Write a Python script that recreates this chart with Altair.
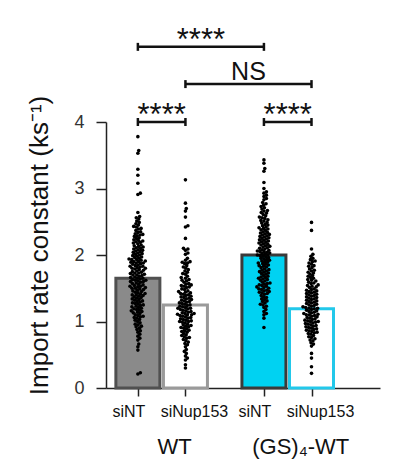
import math
import altair as alt
import pandas as pd

# ---------------- data ----------------
groups = ["WT", "(GS)₄-WT"]
conditions = ["siNT", "siNup153"]
bar_means = [1.65, 1.25, 2.00, 1.19]

wt_sint = [3.78, 3.57, 3.53, 3.29, 3.20, 3.08, 2.93, 2.91, 2.64,
           2.58, 2.56, 2.54, 2.51, 2.49, 2.47, 2.45, 2.43, 2.42, 2.40,
           2.39, 2.37, 2.35, 2.34, 2.32, 2.31, 2.30,
           2.29, 2.28, 2.26, 2.25, 2.23, 2.22, 2.21, 2.20,
           2.19, 2.18, 2.17, 2.15, 2.14, 2.13, 2.12, 2.11, 2.10,
           2.09, 2.08, 2.07, 2.06, 2.05, 2.04, 2.03, 2.02, 2.01, 2.00,
           1.99, 1.98, 1.97, 1.96, 1.95, 1.94, 1.93, 1.93, 1.92, 1.91, 1.90, 1.90,
           1.89, 1.88, 1.88, 1.87, 1.86, 1.85, 1.84, 1.83, 1.83, 1.82, 1.81, 1.80, 1.80,
           1.79, 1.78, 1.77, 1.76, 1.75, 1.74, 1.73, 1.73, 1.72, 1.71, 1.70, 1.70,
           1.69, 1.68, 1.67, 1.66, 1.65, 1.65, 1.64, 1.63, 1.62, 1.62, 1.61, 1.60, 1.60,
           1.59, 1.58, 1.57, 1.56, 1.55, 1.54, 1.53, 1.53, 1.52, 1.51, 1.50, 1.50,
           1.49, 1.48, 1.47, 1.46, 1.45, 1.44, 1.43, 1.42, 1.41, 1.40, 1.40,
           1.39, 1.38, 1.37, 1.36, 1.35, 1.34, 1.33, 1.32, 1.31, 1.30,
           1.29, 1.28, 1.27, 1.26, 1.25, 1.24, 1.23, 1.22, 1.21, 1.20,
           1.19, 1.18, 1.17, 1.16, 1.15, 1.14, 1.13, 1.12, 1.10,
           1.09, 1.08, 1.07, 1.06, 1.05, 1.03, 1.02, 1.00,
           0.98, 0.96, 0.95, 0.93, 0.92, 0.90,
           0.88, 0.86, 0.84, 0.81, 0.78, 0.75, 0.72, 0.66, 0.62, 0.57,
           0.23, 0.21]

wt_sinup = [3.13, 2.78, 2.70, 2.66, 2.57, 2.44, 2.42, 2.25, 2.10, 2.09, 2.07,
            2.03, 2.01, 1.95, 1.92, 1.90, 1.89, 1.88, 1.87,
            1.84, 1.82, 1.80, 1.78, 1.76, 1.74, 1.72, 1.71,
            1.68, 1.66, 1.65, 1.63, 1.62, 1.61,
            1.59, 1.57, 1.56, 1.55, 1.54, 1.53, 1.52, 1.51,
            1.49, 1.48, 1.46, 1.45, 1.44, 1.43, 1.42, 1.41, 1.40,
            1.39, 1.38, 1.37, 1.36, 1.35, 1.34, 1.33, 1.32, 1.31, 1.30,
            1.29, 1.28, 1.27, 1.26, 1.25, 1.24, 1.23, 1.22, 1.21, 1.20, 1.20,
            1.19, 1.18, 1.17, 1.16, 1.15, 1.14, 1.13, 1.12, 1.12, 1.11, 1.10, 1.10,
            1.09, 1.08, 1.07, 1.06, 1.05, 1.04, 1.03, 1.02, 1.01, 1.00, 1.00,
            0.99, 0.98, 0.96, 0.95, 0.94, 0.93, 0.92, 0.91, 0.90,
            0.89, 0.87, 0.86, 0.85, 0.84, 0.82, 0.80,
            0.79, 0.77, 0.76, 0.75, 0.73, 0.71,
            0.69, 0.67, 0.65, 0.62, 0.58, 0.55, 0.52, 0.48, 0.45, 0.42,
            0.35, 0.30]

gs_sint = [3.43, 3.38, 3.30, 3.26, 3.09, 3.00, 2.95, 2.93, 2.90, 2.88, 2.85, 2.83,
           2.79, 2.77, 2.75, 2.73, 2.71, 2.69, 2.67, 2.66, 2.64, 2.63, 2.61,
           2.59, 2.57, 2.56, 2.55, 2.53, 2.52, 2.51,
           2.49, 2.48, 2.46, 2.45, 2.44, 2.42, 2.41, 2.40,
           2.39, 2.38, 2.37, 2.35, 2.34, 2.33, 2.32, 2.31, 2.30,
           2.29, 2.28, 2.27, 2.26, 2.25, 2.24, 2.23, 2.22, 2.21, 2.20,
           2.19, 2.18, 2.17, 2.16, 2.15, 2.14, 2.13, 2.12, 2.11, 2.10,
           2.09, 2.08, 2.07, 2.06, 2.05, 2.05, 2.04, 2.03, 2.02, 2.01, 2.00, 2.00,
           1.99, 1.98, 1.97, 1.96, 1.95, 1.94, 1.93, 1.92, 1.91, 1.90,
           1.89, 1.88, 1.87, 1.86, 1.85, 1.84, 1.83, 1.82, 1.81,
           1.79, 1.78, 1.77, 1.76, 1.75, 1.74, 1.73, 1.72, 1.71,
           1.69, 1.68, 1.67, 1.66, 1.65, 1.64, 1.63, 1.62, 1.61,
           1.59, 1.58, 1.57, 1.56, 1.55, 1.54, 1.53, 1.52, 1.51, 1.50,
           1.49, 1.48, 1.47, 1.46, 1.45, 1.44, 1.43, 1.42, 1.41,
           1.39, 1.37, 1.36, 1.34, 1.33, 1.31, 1.30,
           1.28, 1.26, 1.25, 1.23, 1.21, 1.18, 1.15, 1.12, 1.10,
           1.05, 0.91]

gs_sinup = [2.49, 2.37, 2.09, 2.01, 1.98, 1.95, 1.93, 1.91, 1.90,
            1.88, 1.86, 1.84, 1.83, 1.81, 1.79, 1.77, 1.76, 1.74, 1.73, 1.71,
            1.69, 1.68, 1.66, 1.65, 1.63, 1.62, 1.61,
            1.59, 1.58, 1.57, 1.55, 1.54, 1.53, 1.52, 1.51,
            1.49, 1.48, 1.47, 1.46, 1.45, 1.44, 1.43, 1.42, 1.41, 1.40,
            1.39, 1.38, 1.37, 1.36, 1.35, 1.34, 1.33, 1.32, 1.31, 1.30,
            1.29, 1.28, 1.27, 1.26, 1.25, 1.24, 1.23, 1.22, 1.21, 1.20, 1.20,
            1.19, 1.18, 1.17, 1.16, 1.15, 1.14, 1.13, 1.12, 1.11, 1.10, 1.10,
            1.09, 1.08, 1.07, 1.06, 1.05, 1.04, 1.03, 1.02, 1.01, 1.00, 1.00,
            0.99, 0.98, 0.97, 0.96, 0.95, 0.94, 0.93, 0.92, 0.91, 0.90,
            0.89, 0.88, 0.87, 0.86, 0.85, 0.84, 0.83, 0.82, 0.81,
            0.79, 0.77, 0.76, 0.74, 0.72, 0.71, 0.68, 0.66, 0.63,
            0.52, 0.45, 0.32, 0.22]

series = [wt_sint, wt_sinup, gs_sint, gs_sinup]

# significance comparisons: (from bar index, to bar index, level, label)
comparisons = [(0, 1, 4.00, "****"), (2, 3, 4.00, "****"),
               (1, 3, 4.57, "NS"), (0, 2, 5.13, "****")]

# ---------------- layout ----------------
W, H = 274, 266
Y_MAX = 4
GROUP_STEP = 2.65
X_DOMAIN = [-0.67, GROUP_STEP + 1 + 1.44]
px_x = W / (X_DOMAIN[1] - X_DOMAIN[0])
px_y = H / Y_MAX
DOT = 2.8

keys, centers, cond_lab, grp_lab = [], [], [], []
for gi, g in enumerate(groups):
    for ci, c in enumerate(conditions):
        keys.append(f"{g} {c}")
        centers.append(gi * GROUP_STEP + ci)
        cond_lab.append(c)
        grp_lab.append(g)


def swarm(values):
    order = sorted(range(len(values)), key=lambda i: values[i])
    placed = []
    offs = [0.0] * len(values)
    for i in order:
        y = values[i] * px_y
        nb = [(px, py) for px, py in placed if abs(py - y) < DOT]
        cands = [0.0]
        for px, py in nb:
            dx = math.sqrt(DOT * DOT - (py - y) ** 2)
            cands += [px + dx, px - dx]
        cands.sort(key=abs)
        chosen = 0.0
        for c in cands:
            if all((c - px) ** 2 + (y - py) ** 2 >= DOT * DOT - 1e-6 for px, py in nb):
                chosen = c
                break
        placed.append((chosen, y))
        offs[i] = chosen
    return offs


pts = []
for k, cx, vals in zip(keys, centers, series):
    for v, o in zip(vals, swarm(vals)):
        pts.append({"key": k, "value": v, "xpos": cx + o / px_x})
pts = pd.DataFrame(pts)

bars = pd.DataFrame({"key": keys, "center": centers, "mean": bar_means,
                     "cond": cond_lab})
grp_df = pd.DataFrame({"group": groups,
                       "center": [gi * GROUP_STEP + 0.5 for gi in range(len(groups))]})

br = pd.DataFrame([{"x1": centers[a], "x2": centers[b], "y": lv,
                    "label": lab, "xm": (centers[a] + centers[b]) / 2}
                   for a, b, lv, lab in comparisons])
ends = pd.DataFrame([{"x": xx, "y1": r.y - 0.06, "y2": r.y + 0.06}
                     for r in br.itertuples() for xx in (r.x1, r.x2)])

fills = ["#8a8a8a", "#ffffff", "#00d2f2", "#ffffff"]
strokes = ["#505050", "#9a9a9a", "#3a3a3a", "#22c8ea"]

FONT = "Liberation Sans"
xs = alt.Scale(domain=X_DOMAIN, nice=False, zero=False, padding=0)
ys = alt.Scale(domain=[0, Y_MAX], nice=False)

x_axis = alt.Axis(values=centers, labels=False, title=None, grid=False,
                  tickSize=8, tickWidth=1.5, tickColor="#222",
                  domainColor="#222", domainWidth=1.5)
y_axis = alt.Axis(values=[0, 1, 2, 3, 4], format="d",
                  title="Import rate constant (ks⁻¹)",
                  grid=False, tickSize=10, tickWidth=1.5, tickColor="#222",
                  domainColor="#222", domainWidth=1.5, labelFontSize=18,
                  labelColor="#333", labelPadding=12, titleFontSize=26,
                  titleFontWeight="normal", titleColor="#111", titlePadding=21,
                  titleY=H / 2 - 10,
                  labelFont=FONT, titleFont=FONT)

bar_layer = alt.Chart(bars).mark_bar(width=44, strokeWidth=3, orient="vertical").encode(
    x=alt.X("center:Q", scale=xs, axis=x_axis),
    y=alt.Y("mean:Q", scale=ys, axis=y_axis, stack=None),
    y2=alt.datum(0),
    fill=alt.Fill("key:N", scale=alt.Scale(domain=keys, range=fills), legend=None),
    stroke=alt.Stroke("key:N", scale=alt.Scale(domain=keys, range=strokes), legend=None),
)

dot_layer = alt.Chart(pts).mark_circle(size=13, color="#000", opacity=1).encode(
    x=alt.X("xpos:Q", scale=xs),
    y=alt.Y("value:Q", scale=ys),
)

cond_nt = alt.Chart(bars[bars.cond == conditions[0]]).mark_text(
    fontSize=16, font=FONT, color="#111", baseline="middle", dx=-9).encode(
    x=alt.X("center:Q", scale=xs), y=alt.value(H + 24), text="cond:N")
cond_nup = alt.Chart(bars[bars.cond == conditions[1]]).mark_text(
    fontSize=16, font=FONT, color="#111", baseline="middle", dx=9).encode(
    x=alt.X("center:Q", scale=xs), y=alt.value(H + 24), text="cond:N")

grp_text = alt.Chart(grp_df).mark_text(fontSize=22, font=FONT, color="#111",
                                       baseline="middle", dx=13).encode(
    x=alt.X("center:Q", scale=xs), y=alt.value(H + 59), text="group:N")

br_rule = alt.Chart(br).mark_rule(strokeWidth=2.5, color="#111").encode(
    x=alt.X("x1:Q", scale=xs), x2="x2:Q", y=alt.Y("y:Q", scale=ys))
br_ends = alt.Chart(ends).mark_rule(strokeWidth=2.5, color="#111").encode(
    x=alt.X("x:Q", scale=xs), y=alt.Y("y1:Q", scale=ys), y2="y2:Q")

stars = alt.Chart(br[br.label != "NS"]).mark_text(
    fontSize=31, font=FONT, color="#111", baseline="alphabetic", dy=3).encode(
    x=alt.X("xm:Q", scale=xs), y=alt.Y("y:Q", scale=ys), text="label:N")
ns = alt.Chart(br[br.label == "NS"]).mark_text(
    fontSize=25, font=FONT, color="#111", baseline="alphabetic", dy=-4).encode(
    x=alt.X("xm:Q", scale=xs), y=alt.Y("y:Q", scale=ys), text="label:N")

chart = alt.layer(bar_layer, dot_layer, cond_nt, cond_nup, grp_text, br_rule,
                  br_ends, stars, ns).properties(
    width=W, height=H,
    autosize=alt.AutoSizeParams(type="none"),
    padding={"top": 114, "left": 98, "right": 8, "bottom": 78}
).configure(font=FONT, view=alt.ViewConfig(stroke=None))

chart.save("out.html", embed_options={"renderer": "svg", "actions": False})
